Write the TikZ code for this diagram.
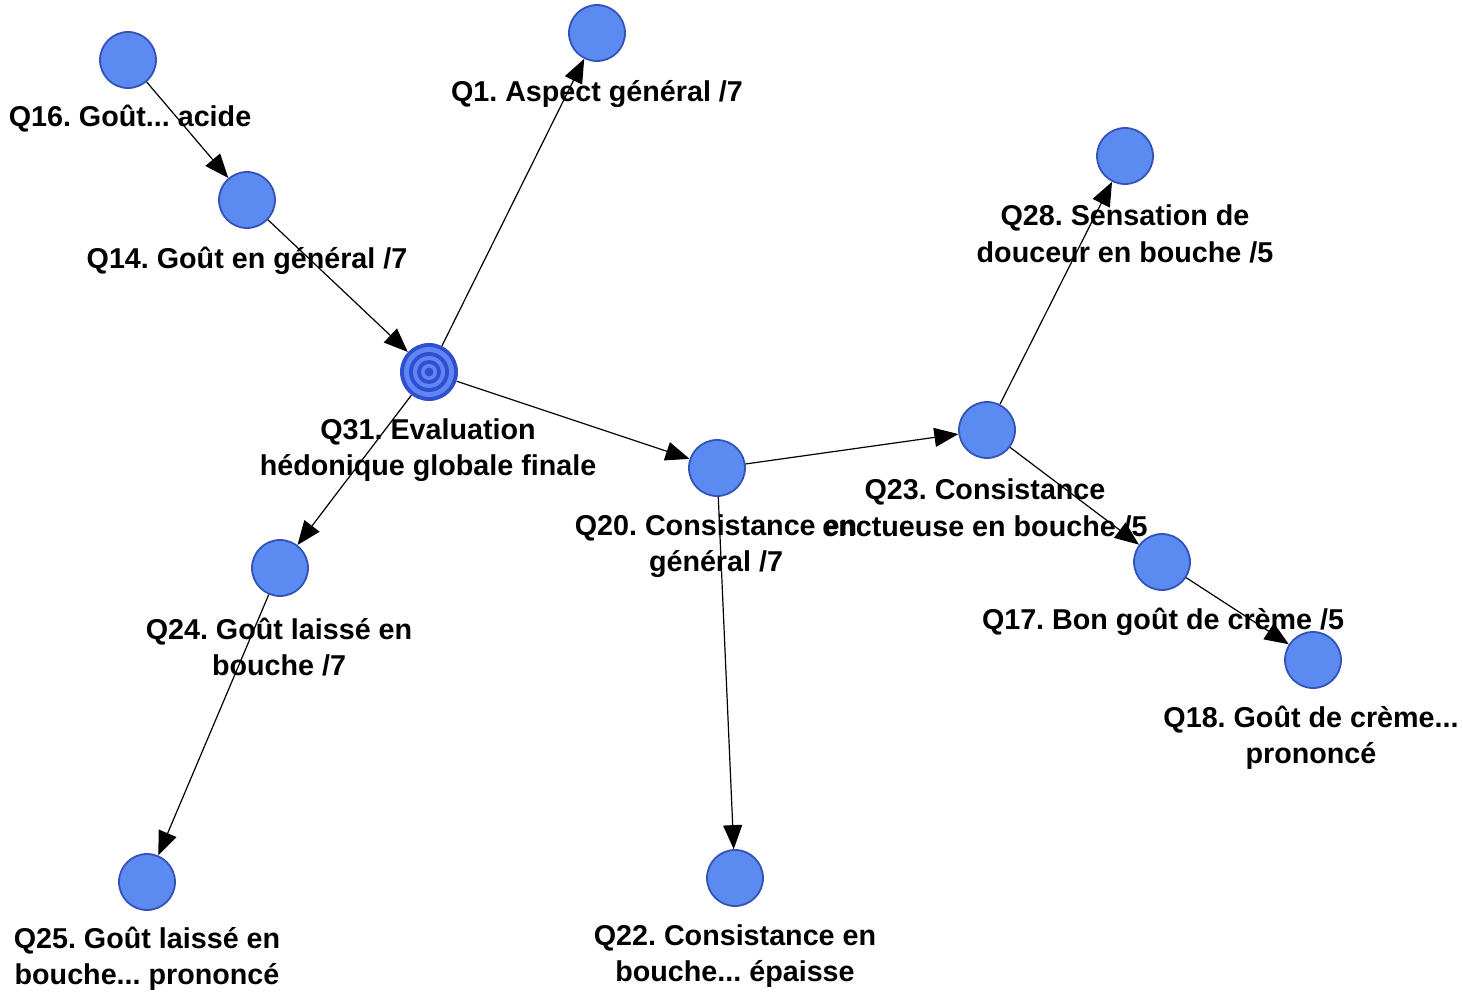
\documentclass[tikz,border=0pt]{standalone}
\usepackage{fontspec}
\setmainfont{Liberation Sans}
\usetikzlibrary{arrows.meta}
\frenchspacing
\definecolor{nodefill}{HTML}{5B8AF0}
\definecolor{nodeedge}{HTML}{3452B8}
\definecolor{ringdark}{HTML}{2F4FD0}
\definecolor{ringlight}{HTML}{5F86F2}
\tikzset{
  qnode/.style={circle, draw=nodeedge, line width=1.8pt, fill=nodefill, minimum size=56pt, inner sep=0pt},
  qlabel/.style={font=\bfseries\fontsize{28.7}{36.5}\selectfont, align=center, inner sep=0pt, text=black},
  edge/.style={line width=1.2pt, -{Triangle[length=24pt,width=19pt]}, shorten >=0pt},
}
\begin{document}
\begin{tikzpicture}[x=1pt,y=-1pt]
\useasboundingbox (0,0) rectangle (1463,992);
\fill[white] (0,0) rectangle (1463,992);
% labels
\node[qlabel] (l16) at (130,119) {Q16. Goût... acide};
\node[qlabel] (l14) at (247,261) {Q14. Goût en général /7};
\node[qlabel] (l1) at (597,94) {Q1. Aspect général /7};
\node[qlabel] (l31) at (428,450) {Q31. Evaluation\\hédonique globale finale};
\node[qlabel] (l24) at (279,647) {Q24. Goût laissé en\\bouche /7};
\node[qlabel] (l25) at (147,959) {Q25. Goût laissé en\\bouche... prononcé};
\node[qlabel] (l20) at (716,546) {Q20. Consistance en\\général /7};
\node[qlabel] (l23) at (985,508) {Q23. Consistance\\enctueuse en bouche /5};
\node[qlabel] (l28) at (1125,234) {Q28. Sensation de\\douceur en bouche /5};
\node[qlabel] (l17) at (1163,622) {Q17. Bon goût de crème /5};
\node[qlabel] (l18) at (1311,738) {Q18. Goût de crème...\\prononcé};
\node[qlabel] (l22) at (735,956) {Q22. Consistance en\\bouche... épaisse};
% nodes
\node[qnode] (q16) at (128,60) {};
\node[qnode] (q14) at (247,200) {};
\node[qnode] (q1) at (597,33) {};
\node[qnode] (q24) at (280,568) {};
\node[qnode] (q25) at (147,882) {};
\node[qnode] (q20) at (717,468) {};
\node[qnode] (q22) at (735,878) {};
\node[qnode] (q23) at (987,430) {};
\node[qnode] (q28) at (1125,156) {};
\node[qnode] (q17) at (1162,562) {};
\node[qnode] (q18) at (1313,660) {};
\node[circle, minimum size=58pt, inner sep=0pt] (q31) at (429,372) {};
\fill[ringdark] (q31.center) circle (29);
\fill[ringlight] (q31.center) circle (25);
\fill[ringdark] (q31.center) circle (20);
\fill[ringlight] (q31.center) circle (16);
\fill[ringdark] (q31.center) circle (12);
\fill[ringlight] (q31.center) circle (8);
\fill[ringdark] (q31.center) circle (4.5);
% edges
\draw[edge] (q16) -- (q14);
\draw[edge] (q14) -- (q31);
\draw[edge] (q31) -- (q1);
\draw[edge] (q31) -- (q20);
\draw[edge] (q31) -- (q24);
\draw[edge] (q24) -- (q25);
\draw[edge] (q20) -- (q23);
\draw[edge] (q20) -- (q22);
\draw[edge] (q23) -- (q28);
\draw[edge] (q23) -- (q17);
\draw[edge] (q17) -- (q18);
\end{tikzpicture}
\end{document}
